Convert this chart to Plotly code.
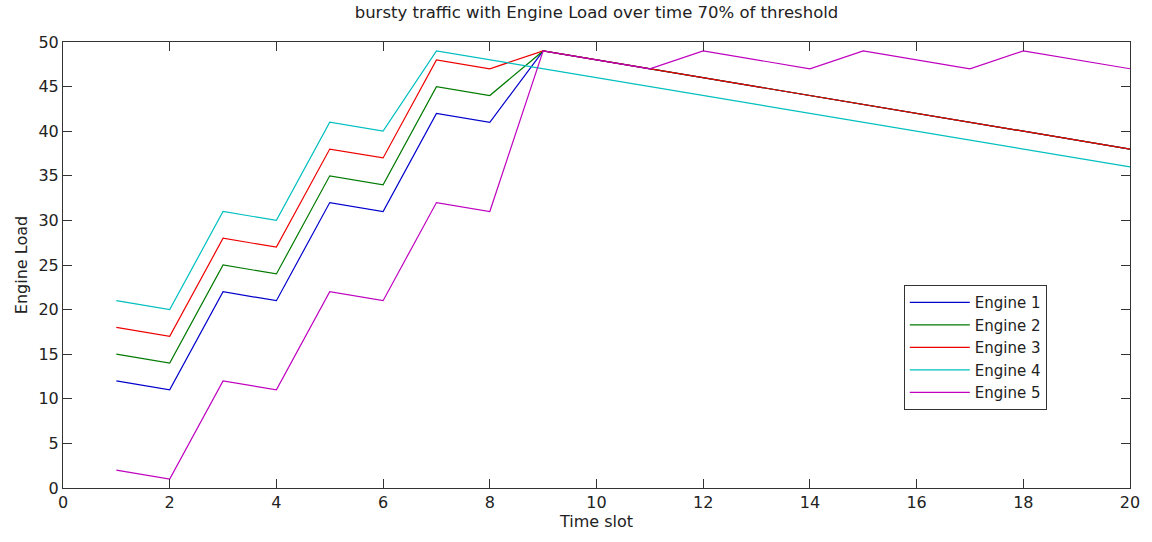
import plotly.graph_objects as go

time_slot = list(range(1, 21))
engine1 = [12, 11, 22, 21, 32, 31, 42, 41, 49, 48, 47, 46, 45, 44, 43, 42, 41, 40, 39, 38]
engine2 = [15, 14, 25, 24, 35, 34, 45, 44, 49, 48, 47, 46, 45, 44, 43, 42, 41, 40, 39, 38]
engine3 = [18, 17, 28, 27, 38, 37, 48, 47, 49, 48, 47, 46, 45, 44, 43, 42, 41, 40, 39, 38]
engine4 = [21, 20, 31, 30, 41, 40, 49, 48, 47, 46, 45, 44, 43, 42, 41, 40, 39, 38, 37, 36]
engine5 = [2, 1, 12, 11, 22, 21, 32, 31, 49, 48, 47, 49, 48, 47, 49, 48, 47, 49, 48, 47]

series = [
    ("Engine 1", engine1, "#0000cc"),
    ("Engine 2", engine2, "#007a00"),
    ("Engine 3", engine3, "#ee0000"),
    ("Engine 4", engine4, "#00bfbf"),
    ("Engine 5", engine5, "#bf00bf"),
]

fam = "DejaVu Sans, Verdana, sans-serif"
tick_font = dict(family=fam, size=16, color="#222")
label_font = dict(family=fam, size=16, color="#222")

fig = go.Figure()
for name, ys, col in series:
    fig.add_trace(go.Scatter(x=time_slot, y=ys, mode="lines", name=name,
                             line=dict(color=col, width=1.2)))

axis_common = dict(showgrid=False, zeroline=False, showline=True, linecolor="#333",
                   linewidth=1, mirror="ticks", ticks="inside", ticklen=9,
                   tickcolor="#333", tickfont=tick_font)

fig.update_layout(
    width=1152, height=542,
    margin=dict(l=63, r=17, t=42, b=54),
    paper_bgcolor="white", plot_bgcolor="white",
    font=tick_font,
    title=dict(text="bursty traffic with Engine Load over time 70% of threshold",
               x=0.5, xanchor="center", xref="paper", y=0.978, yanchor="middle",
               font=dict(family=fam, size=16.5, color="#222")),
    xaxis=dict(range=[0, 20], tickvals=list(range(0, 21, 2)),
               title=dict(text="Time slot", font=label_font, standoff=4), **axis_common),
    yaxis=dict(range=[0, 50], tickvals=list(range(0, 51, 5)),
               title=dict(text="Engine Load", font=label_font, standoff=6), **axis_common),
    legend=dict(x=0.788, y=0.455, xanchor="left", yanchor="top",
                bgcolor="white", bordercolor="#333", borderwidth=1,
                font=dict(family=fam, size=15, color="#222"),
                itemwidth=60, tracegroupgap=0),
    showlegend=True,
)

fig.write_html("out.html")
